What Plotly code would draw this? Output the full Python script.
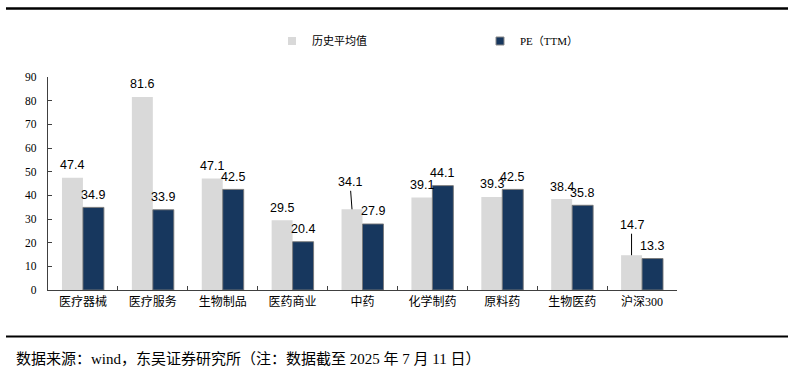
import plotly.graph_objects as go

categories = ["医疗器械", "医疗服务", "生物制品", "医药商业", "中药", "化学制药", "原料药", "生物医药", "沪深300"]
hist_avg = [47.4, 81.6, 47.1, 29.5, 34.1, 39.1, 39.3, 38.4, 14.7]
pe_ttm = [34.9, 33.9, 42.5, 20.4, 27.9, 44.1, 42.5, 35.8, 13.3]
series_names = ["历史平均值", "PE（TTM）"]
y_ticks = [0, 10, 20, 30, 40, 50, 60, 70, 80, 90]
footnote = "数据来源：wind，东吴证券研究所（注：数据截至 2025 年 7 月 11 日）"

GRAY = "#d9d9d9"
NAVY = "#17375e"
SERIF = "Liberation Serif, Noto Sans CJK SC, serif"
SANS = "Liberation Sans, Arial, sans-serif"

W, H = 802, 375
L, R, T, B = 48, 125, 77, 85
PW, PH = W - L - R, H - T - B


def px_x(x):
    return (x - L) / PW


def px_y(y):
    return (H - B - y) / PH


fig = go.Figure()
fig.add_trace(go.Bar(x=categories, y=hist_avg, name=series_names[0], marker=dict(color=GRAY, line=dict(width=0)),
                     showlegend=False))
fig.add_trace(go.Bar(x=categories, y=pe_ttm, name=series_names[1],
                     marker=dict(color=NAVY, line=dict(width=1, color="rgba(120,120,120,0.9)")),
                     showlegend=False))
# legend proxies (small square swatches)
fig.add_trace(go.Scatter(x=[None], y=[None], mode="markers", name=series_names[0],
                         marker=dict(symbol="square", size=8, color=GRAY)))
fig.add_trace(go.Scatter(x=[None], y=[None], mode="markers", name=series_names[1],
                         marker=dict(symbol="square", size=8, color=NAVY, line=dict(width=1, color="#888"))))

annotations = []
leader = {("中药", 0): (-2, -27), ("沪深300", 0): (0, -30)}
for si, vals in enumerate([hist_avg, pe_ttm]):
    xs = -10.5 if si == 0 else 10
    for c, v in zip(categories, vals):
        if (c, si) in leader:
            ax, ay = leader[(c, si)]
            annotations.append(dict(x=c, y=v, text=f"{v:.1f}", showarrow=True, arrowhead=0, arrowwidth=1,
                                    arrowcolor="#000", ax=ax, ay=ay, xshift=xs, standoff=0,
                                    font=dict(family=SANS, size=12.5, color="#000")))
        else:
            annotations.append(dict(x=c, y=v, text=f"{v:.1f}", showarrow=False, xshift=xs, yshift=12.5,
                                    yanchor="middle", font=dict(family=SANS, size=12.5, color="#000")))

annotations.append(dict(xref="paper", yref="paper", x=px_x(14), y=px_y(359), xanchor="left", yanchor="middle",
                        text=footnote, showarrow=False, font=dict(family=SERIF, size=15, color="#000")))

shapes = [
    dict(type="line", xref="paper", yref="paper", x0=px_x(6), x1=px_x(788), y0=px_y(8.5), y1=px_y(8.5),
         line=dict(color="#000", width=2.5)),
    dict(type="line", xref="paper", yref="paper", x0=px_x(6), x1=px_x(788), y0=px_y(336.5), y1=px_y(336.5),
         line=dict(color="#000", width=2)),
]

fig.update_layout(
    width=W, height=H,
    margin=dict(l=L, r=R, t=T, b=B, autoexpand=False),
    paper_bgcolor="white", plot_bgcolor="white",
    barmode="group", bargap=0.4, bargroupgap=0,
    showlegend=True,
    legend=dict(orientation="h", xref="container", yref="container", x=272 / W, y=1 - 41 / H,
                xanchor="left", yanchor="middle", entrywidth=163, entrywidthmode="pixels",
                font=dict(family=SERIF, size=11, color="#000"), bgcolor="rgba(0,0,0,0)", itemwidth=30),
    annotations=annotations,
    shapes=shapes,
    xaxis=dict(type="category", showline=True, linecolor="#404040", linewidth=1.3,
               ticks="inside", tickson="boundaries", ticklen=4, tickcolor="#404040",
               tickfont=dict(family=SERIF, size=12, color="#000"), showgrid=False, zeroline=False,
               fixedrange=True),
    yaxis=dict(range=[0, 90], tickvals=y_ticks, showline=True, linecolor="#404040", linewidth=1.3,
               ticks="inside", ticklen=4, tickcolor="#404040", showgrid=False, zeroline=False,
               tickfont=dict(family=SERIF, size=11.5, color="#000"), ticklabelstandoff=8, fixedrange=True),
)

fig.write_html("out.html", config={"displayModeBar": False},
               post_script="document.body.style.margin='0';document.body.style.padding='0';")
